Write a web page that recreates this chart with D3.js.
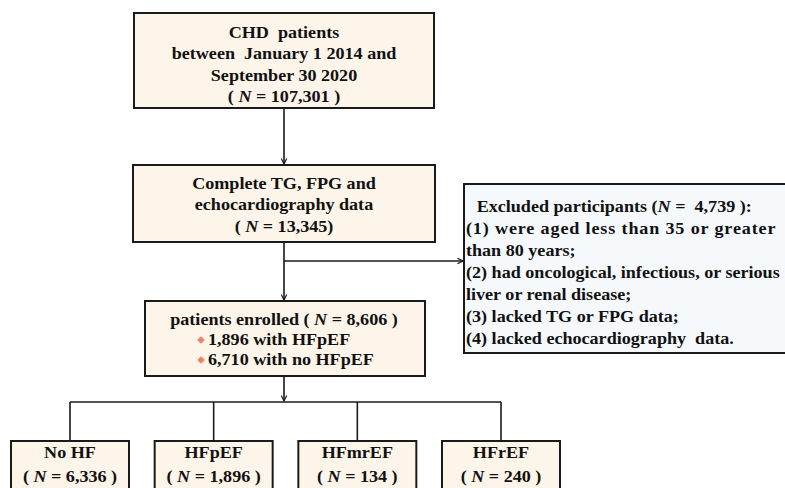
<!DOCTYPE html>
<html>
<head>
<meta charset="utf-8">
<script src="https://cdn.jsdelivr.net/npm/d3@7"></script>
<style>
  html, body { margin: 0; padding: 0; background: #fff; }
  svg { display: block; }
  text { font-family: "Liberation Serif", "Times New Roman", serif; font-weight: bold; fill: #111; white-space: pre; }
</style>
</head>
<body>
<div id="chart"></div>
<script>
// Flow stages (main column)
const stageTitles = [
  ['CHD  patients', 'between  January 1 2014 and', 'September 30 2020'],
  ['Complete TG, FPG and', 'echocardiography data'],
  ['patients enrolled']
];
const stageCounts = ['107,301', '13,345', '8,606'];

// Enrolled breakdown
const enrolledItems = ['1,896 with HFpEF', '6,710 with no HFpEF'];

// Exclusion box
const excludedCount = '4,739';
const excludedItems = [
  '(1) were aged less than 35 or greater',
  'than 80 years;',
  '(2) had oncological, infectious, or serious',
  'liver or renal disease;',
  '(3) lacked TG or FPG data;',
  '(4) lacked echocardiography  data.'
];

// Sub-groups at the bottom
const groupNames = ['No HF', 'HFpEF', 'HFmrEF', 'HFrEF'];
const groupCounts = ['6,336', '1,896', '134', '240'];

const width = 785, height = 488;
const boxFill = '#fdf5e9';
const exclFill = '#f5f9fc';
const lineColor = '#1a1a1a';
const fontSize = 17;
const SX = 1.065; // the source text is set a bit wide

const svg = d3.select('#chart').append('svg')
  .attr('width', width).attr('height', height);

svg.append('defs').append('marker')
  .attr('id', 'arrow')
  .attr('viewBox', '0 0 10 10')
  .attr('refX', 9).attr('refY', 5)
  .attr('markerWidth', 7).attr('markerHeight', 7)
  .attr('markerUnits', 'userSpaceOnUse')
  .attr('orient', 'auto')
  .append('path')
  .attr('d', 'M1,1 L9,5 L1,9')
  .attr('fill', 'none')
  .attr('stroke', lineColor)
  .attr('stroke-width', 1.6);

const cx = 284;

// Box geometry for the main column
const mainBoxes = [
  { x0: 134, x1: 434, y0: 13, y1: 108 },
  { x0: 133, x1: 435, y0: 165, y1: 242 },
  { x0: 145, x1: 425, y0: 301, y1: 376 }
];

function drawBox(b, fill) {
  svg.append('rect')
    .attr('x', b.x0).attr('y', b.y0)
    .attr('width', b.x1 - b.x0).attr('height', b.y1 - b.y0)
    .attr('fill', fill)
    .attr('stroke', lineColor)
    .attr('stroke-width', 2);
}

function addText(anchorX, align) {
  return svg.append('text')
    .attr('text-anchor', align || 'middle')
    .attr('font-size', fontSize)
    .attr('transform', `translate(${anchorX},0) scale(${SX},1) translate(${-anchorX},0)`);
}

function countLine(sel, count, pre, post, eq) {
  sel.append('tspan').text(pre);
  sel.append('tspan').attr('font-style', 'italic').text('N');
  sel.append('tspan').text((eq || ' = ') + count + post);
}

// connectors
const link = svg.append('g')
  .attr('fill', 'none')
  .attr('stroke', lineColor)
  .attr('stroke-width', 1.6);

link.append('line')
  .attr('x1', cx).attr('y1', mainBoxes[0].y1)
  .attr('x2', cx).attr('y2', mainBoxes[1].y0 - 1)
  .attr('marker-end', 'url(#arrow)');
link.append('line')
  .attr('x1', cx).attr('y1', mainBoxes[1].y1)
  .attr('x2', cx).attr('y2', mainBoxes[2].y0 - 1)
  .attr('marker-end', 'url(#arrow)');
link.append('line')
  .attr('x1', cx).attr('y1', 261)
  .attr('x2', 463).attr('y2', 261)
  .attr('marker-end', 'url(#arrow)');
link.append('line')
  .attr('x1', cx).attr('y1', mainBoxes[2].y1)
  .attr('x2', cx).attr('y2', 401)
  .attr('marker-end', 'url(#arrow)');

// main boxes
mainBoxes.forEach(b => drawBox(b, boxFill));

// stage 1
const t1 = addText(cx);
stageTitles[0].forEach((s, i) => {
  t1.append('tspan').attr('x', cx).attr('y', 38 + i * 21.5).text(s);
});
countLine(t1.append('tspan').attr('x', cx).attr('y', 38 + 3 * 21.5), stageCounts[0], '( ', ' )');

// stage 2
const t2 = addText(cx);
stageTitles[1].forEach((s, i) => {
  t2.append('tspan').attr('x', cx).attr('y', 189 + i * 21.5).text(s);
});
countLine(t2.append('tspan').attr('x', cx).attr('y', 189 + 2 * 21.5), stageCounts[1], '( ', ')');

// stage 3
const t3 = addText(cx);
countLine(t3.append('tspan').attr('x', cx).attr('y', 325), stageCounts[2], stageTitles[2][0] + ' ( ', ' )');
enrolledItems.forEach((s, i) => {
  const y = 345 + i * 20;
  svg.append('path')
    .attr('d', d3.symbol(d3.symbolSquare, 30)())
    .attr('transform', `translate(201,${y - 5}) rotate(45)`)
    .attr('fill', '#f0826a');
  addText(208, 'start').attr('x', 208).attr('y', y).text(s);
});

// exclusion box
const ex = { x0: 464, x1: 800, y0: 184, y1: 353 };
drawBox(ex, exclFill);
const te = addText(466, 'start');
countLine(te.append('tspan').attr('x', 476).attr('y', 212), excludedCount, 'Excluded participants (', ' ):', ' =  ');
excludedItems.forEach((s, i) => {
  te.append('tspan').attr('x', 466).attr('y', 234 + i * 22)
    .attr('letter-spacing', i === 0 ? 0.8 : 0)
    .text(s);
});

// bottom groups
const band = d3.scaleBand()
  .domain(groupNames)
  .range([11, 560])
  .paddingInner(0.1787);

const busY = 402, groupTop = 441;
link.append('line')
  .attr('x1', band(groupNames[0]) + band.bandwidth() / 2)
  .attr('x2', band(groupNames[groupNames.length - 1]) + band.bandwidth() / 2)
  .attr('y1', busY).attr('y2', busY);

groupNames.forEach((g, i) => {
  const gx = band(g) + band.bandwidth() / 2;
  link.append('line')
    .attr('x1', gx).attr('x2', gx)
    .attr('y1', busY).attr('y2', groupTop);
  drawBox({ x0: band(g), x1: band(g) + band.bandwidth(), y0: groupTop, y1: groupTop + 70 }, boxFill);
  const tg = addText(gx);
  tg.append('tspan').attr('x', gx).attr('y', 458).text(g);
  countLine(tg.append('tspan').attr('x', gx).attr('y', 482), groupCounts[i], '( ', ' )');
});
</script>
</body>
</html>
